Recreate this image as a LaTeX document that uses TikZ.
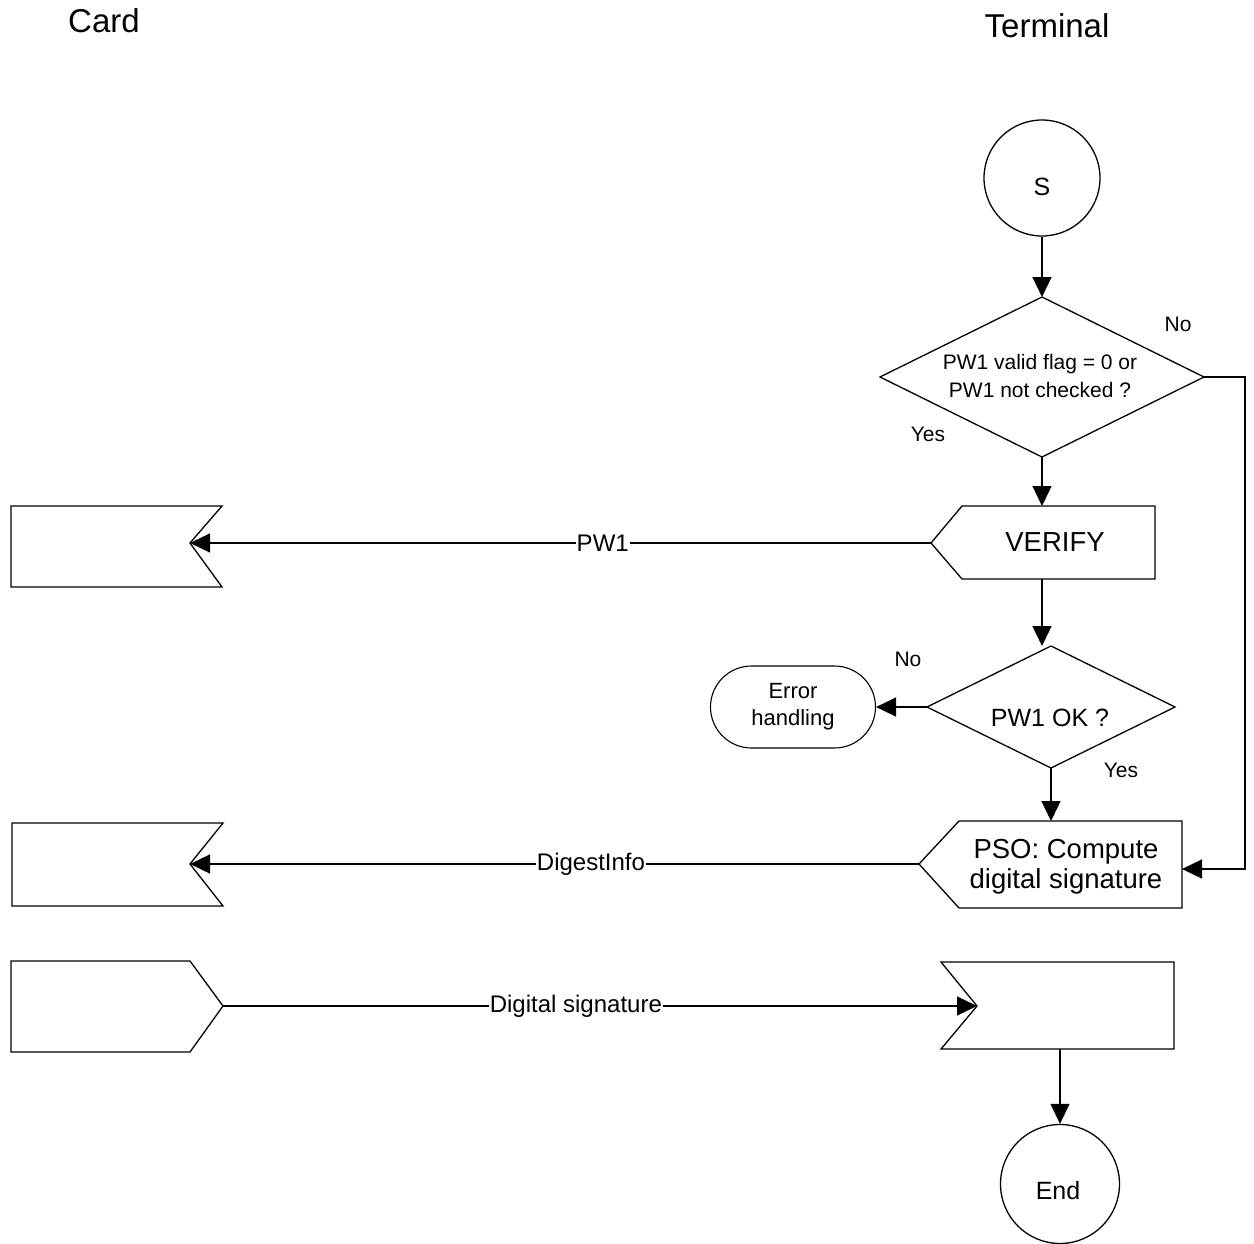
\documentclass[tikz,border=0pt]{standalone}
\usepackage{fontspec}
\setmainfont{Liberation Sans}
\usetikzlibrary{arrows.meta}

\begin{document}
\begin{tikzpicture}[x=1pt,y=-1pt,
  outline/.style={draw=black, line width=1.3pt, line join=miter},
  flow/.style={draw=black, line width=1.3pt, -{Triangle[length=20pt,width=19pt]}},
  head/.style={font=\fontsize{33}{38}\selectfont, inner sep=0pt},
  small/.style={font=\fontsize{21}{28}\selectfont, inner sep=0pt, align=center},
  mid/.style={font=\fontsize{25}{30}\selectfont, inner sep=0pt, align=center},
  big/.style={font=\fontsize{27.5}{30}\selectfont, inner sep=0pt, align=center},
  msg/.style={font=\fontsize{24}{28}\selectfont, fill=white, inner sep=1pt},
  terminator/.style={circle, draw=black, line width=1.3pt, inner sep=0pt}
]
\useasboundingbox (0,0) rectangle (1254,1244);

% lane headings
\node[head] (cardhead) at (104,21) {Card};
\node[head] (termhead) at (1047,26) {Terminal};

% start and end terminators
\node[terminator, minimum size=116pt] (s) at (1042,178) {};
\node[mid] (stxt) at (1042,187) {S};
\node[terminator, minimum size=119pt] (end) at (1060,1184) {};
\node[mid] (endtxt) at (1058,1191) {End};

% decision: PW1 state
\coordinate (d1n) at (1042,297);
\coordinate (d1e) at (1204,377);
\coordinate (d1s) at (1042,457);
\coordinate (d1w) at (880,377);
\draw[outline] (d1n) -- (d1e) -- (d1s) -- (d1w) -- cycle;
\node[small] (d1txt) at (1040,376) {PW1 valid flag = 0 or\\PW1 not checked ?};
\node[small] (d1no) at (1178,324) {No};
\node[small] (d1yes) at (928,434) {Yes};

% send VERIFY
\coordinate (vtip) at (931,543);
\coordinate (vn) at (1042,506);
\coordinate (vs) at (1042,579);
\draw[outline] (vtip) -- (962,506) -- (1155,506) -- (1155,579) -- (962,579) -- cycle;
\node[big] (vtxt) at (1055,542) {VERIFY};

% card receives PW1
\coordinate (c1in) at (190,543);
\draw[outline] (11,506) -- (222,506) -- (c1in) -- (222,587) -- (11,587) -- cycle;

% decision: PW1 OK
\coordinate (d2n) at (1051,646);
\coordinate (d2e) at (1175,707);
\coordinate (d2s) at (1051,768);
\coordinate (d2w) at (927,707);
\draw[outline] (d2n) -- (d2e) -- (d2s) -- (d2w) -- cycle;
\node[mid] (d2txt) at (1050,718) {PW1 OK ?};
\node[small] (d2no) at (908,659) {No};
\node[small] (d2yes) at (1121,770) {Yes};

% error exit
\node[draw=black, line width=1.1pt, rounded corners=41pt, minimum width=165pt,
      minimum height=82pt, inner sep=0pt, align=center,
      font=\fontsize{22}{27}\selectfont] (err) at (793,707) {Error\\handling};

% send PSO: Compute digital signature
\coordinate (ptip) at (919,864);
\coordinate (pn) at (1051,821);
\coordinate (pin) at (1182,869);
\draw[outline] (ptip) -- (959,821) -- (1182,821) -- (1182,908) -- (959,908) -- cycle;
\node[big] (ptxt) at (1066,867) {PSO: Compute\\digital signature};

% card receives DigestInfo
\coordinate (c2in) at (190,864);
\draw[outline] (12,823) -- (223,823) -- (c2in) -- (223,906) -- (12,906) -- cycle;

% card sends the signature
\coordinate (c3out) at (223,1006);
\draw[outline] (11,961) -- (190,961) -- (c3out) -- (190,1052) -- (11,1052) -- cycle;

% terminal receives the signature
\coordinate (rin) at (977,1006);
\coordinate (rs) at (1060,1049);
\draw[outline] (941,962) -- (1174,962) -- (1174,1049) -- (941,1049) -- (rin) -- cycle;

% bypass route on the right
\coordinate (route) at (1245,600);

% connectors
\draw[flow] (s.south) -- (d1n);
\draw[flow] (d1s) -- (vn);
\draw[flow] (d1e) -- (d1e -| route) -- (route |- pin) -- (pin);
\draw[flow] (vtip) -- node[msg, pos=0.443] (pw1) {PW1} (c1in);
\draw[flow] (vs) -- (vs |- d2n);
\draw[flow] (d2w) -- (err.east);
\draw[flow] (d2s) -- (pn);
\draw[flow] (ptip) -- node[msg, pos=0.45] (digest) {DigestInfo} (c2in);
\draw[flow] (c3out) -- node[msg, pos=0.468] (sig) {Digital signature} (rin);
\draw[flow] (rs) -- (end.north);
\end{tikzpicture}
\end{document}
